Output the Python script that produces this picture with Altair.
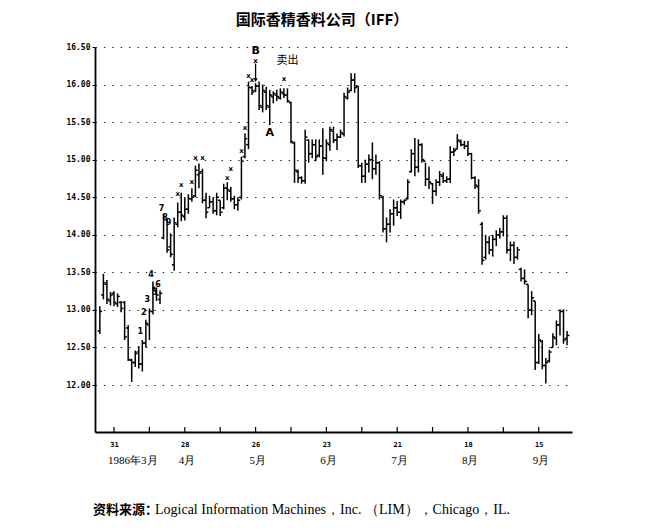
import altair as alt
import pandas as pd

# ---- daily bars (trading-day index 0..132) ----
high = [13.05, 13.48, 13.40, 13.24, 13.25, 13.22, 13.12, 13.12, 12.80, 12.35,
        12.46, 12.52, 12.60, 12.87, 13.02, 13.38, 13.30, 13.26, 14.28, 14.20,
        14.02, 14.23, 14.43, 14.56, 14.50, 14.54, 14.62, 14.92, 14.95, 14.88,
        14.56, 14.52, 14.50, 14.56, 14.46, 14.68, 14.70, 14.64, 14.52, 14.50,
        15.04, 15.35, 16.04, 15.98, 16.02, 16.04, 16.00, 15.97, 15.93, 15.91,
        15.93, 15.95, 15.95, 15.95, 15.77, 15.24, 14.87, 14.78, 15.40, 15.27,
        15.27, 15.27, 15.27, 15.42, 15.27, 15.44, 15.44, 15.35, 15.40, 15.89,
        15.96, 16.15, 16.15, 15.98, 14.96, 15.00, 15.07, 15.23, 15.07, 14.98,
        14.52, 14.23, 14.34, 14.47, 14.45, 14.47, 14.47, 14.74, 15.14, 15.29,
        15.27, 15.22, 14.96, 14.91, 14.69, 14.74, 14.85, 14.83, 14.78, 15.18,
        15.16, 15.34, 15.27, 15.25, 15.25, 15.09, 14.78, 14.74, 14.17, 14.00,
        13.98, 14.00, 14.06, 14.09, 14.26, 14.26, 13.91, 13.91, 13.84, 13.56,
        13.54, 13.34, 13.25, 13.12, 12.68, 12.60, 12.36, 12.47, 12.69, 12.86,
        13.01, 13.01, 12.72]
low = [12.68, 13.14, 13.08, 13.06, 13.05, 13.04, 12.97, 12.60, 12.32, 12.04,
       12.24, 12.22, 12.18, 12.50, 12.60, 12.94, 13.12, 13.08, 13.94, 13.76,
       13.70, 13.52, 14.10, 14.18, 14.19, 14.28, 14.44, 14.50, 14.62, 14.42,
       14.22, 14.36, 14.28, 14.26, 14.25, 14.34, 14.46, 14.44, 14.34, 14.32,
       14.47, 15.02, 15.14, 15.86, 15.90, 15.66, 15.63, 15.66, 15.46, 15.75,
       15.78, 15.80, 15.82, 15.76, 15.22, 14.69, 14.69, 14.68, 14.68, 14.96,
       15.02, 14.98, 15.03, 14.80, 14.98, 15.12, 15.22, 15.13, 15.29, 15.31,
       15.80, 15.91, 15.89, 14.89, 14.69, 14.69, 14.83, 14.74, 14.80, 14.47,
       14.03, 13.90, 14.03, 14.12, 14.25, 14.21, 14.40, 14.47, 14.83, 14.78,
       14.83, 14.96, 14.65, 14.61, 14.41, 14.52, 14.65, 14.69, 14.69, 14.69,
       15.05, 15.14, 15.18, 15.14, 15.05, 14.74, 14.61, 14.28, 13.60, 13.67,
       13.74, 13.71, 13.85, 13.95, 13.98, 13.75, 13.65, 13.61, 13.67, 13.38,
       13.34, 12.89, 12.93, 12.20, 12.28, 12.21, 12.02, 12.30, 12.50, 12.53,
       12.66, 12.55, 12.53]
open_ = [12.72, 13.20, 13.34, 13.12, 13.22, 13.08, 13.10, 13.10, 12.76, 12.33,
         12.30, 12.44, 12.28, 12.56, 12.80, 12.98, 13.26, 13.14, 13.96, 14.20,
         13.84, 13.60, 14.14, 14.30, 14.24, 14.34, 14.48, 14.52, 14.80, 14.84,
         14.46, 14.36, 14.44, 14.32, 14.46, 14.36, 14.62, 14.58, 14.48, 14.40,
         14.50, 15.04, 15.20, 15.96, 15.92, 15.98, 15.70, 15.90, 15.70, 15.84,
         15.86, 15.82, 15.88, 15.86, 15.76, 15.22, 14.84, 14.76, 14.72, 15.26,
         15.08, 15.20, 15.06, 15.18, 15.02, 15.20, 15.38, 15.26, 15.30, 15.34,
         15.82, 15.92, 16.06, 15.98, 14.92, 14.78, 14.94, 15.00, 14.88, 14.96,
         14.50, 14.08, 14.14, 14.28, 14.36, 14.30, 14.44, 14.48, 14.84, 15.08,
         14.90, 15.20, 14.98, 14.74, 14.68, 14.58, 14.70, 14.78, 14.72, 14.74,
         15.10, 15.14, 15.24, 15.20, 15.18, 15.08, 14.76, 14.64, 14.14, 13.70,
         13.90, 13.80, 13.94, 14.00, 14.04, 14.22, 13.80, 13.86, 13.70, 13.54,
         13.42, 13.34, 13.00, 13.12, 12.30, 12.58, 12.26, 12.32, 12.50, 12.62,
         12.80, 12.98, 12.62]
close = [12.98, 13.36, 13.14, 13.20, 13.10, 13.18, 13.02, 12.64, 12.34, 12.30,
         12.42, 12.28, 12.56, 12.82, 12.98, 13.30, 13.20, 13.22, 14.24, 13.80,
         13.74, 14.16, 14.30, 14.26, 14.34, 14.48, 14.50, 14.86, 14.82, 14.46,
         14.30, 14.44, 14.32, 14.50, 14.30, 14.62, 14.60, 14.48, 14.40, 14.46,
         14.98, 15.28, 15.96, 15.90, 15.98, 15.72, 15.92, 15.72, 15.86, 15.88,
         15.84, 15.90, 15.86, 15.78, 15.24, 14.86, 14.76, 14.72, 15.30, 15.08,
         15.20, 15.04, 15.18, 15.02, 15.22, 15.40, 15.26, 15.30, 15.36, 15.84,
         15.90, 16.06, 15.96, 14.92, 14.78, 14.94, 15.00, 14.88, 14.96, 14.52,
         14.08, 14.14, 14.28, 14.36, 14.30, 14.44, 14.46, 14.70, 15.08, 14.90,
         15.20, 15.00, 14.74, 14.70, 14.58, 14.70, 14.80, 14.72, 14.74, 15.10,
         15.12, 15.26, 15.20, 15.18, 15.08, 14.76, 14.66, 14.32, 13.66, 13.90,
         13.80, 13.94, 14.00, 14.04, 14.22, 13.80, 13.86, 13.70, 13.80, 13.42,
         13.38, 13.00, 13.16, 12.30, 12.60, 12.26, 12.30, 12.44, 12.64, 12.80,
         12.98, 12.60, 12.66]
idx = list(range(len(high)))

# ---- axis labels ----
y_ticks = [12.0, 12.5, 13.0, 13.5, 14.0, 14.5, 15.0, 15.5, 16.0, 16.5]
tick_idx = [4, 24, 44, 64, 84, 104, 124]
tick_day = ["31", "28", "26", "23", "21", "18", "15"]
minor_idx = [4, 14, 24, 34, 44, 54, 64, 74, 84, 94, 104, 114, 124]
month_lab = ["1986年3月", "4月", "5月", "6月", "7月", "8月", "9月"]

# ---- annotations ----
xmark_idx = [22, 23, 26, 27, 29, 36, 37, 40, 41, 42, 43, 44, 52]
xmark_p = [14.54, 14.66, 14.70, 15.02, 15.02, 14.75, 14.87, 15.12, 15.42,
           16.11, 16.06, 16.32, 16.07]
count_idx = [12, 13, 14, 15, 16, 17, 18, 19, 20]
count_lab = ["1", "2", "3", "4", "5", "6", "7", "8", "9"]
count_p = [12.71, 12.96, 13.13, 13.47, 13.22, 13.33, 14.35, 14.22, 14.16]
title_txt = "国际香精香料公司（IFF）"
src_bold = "资料来源："
src_txt = "Logical Information Machines，Inc. （LIM），Chicago，IL."

bars = pd.DataFrame({"i": idx, "high": high, "low": low, "open": open_, "close": close})
ticks = pd.DataFrame({"i": minor_idx})
months = pd.DataFrame({"i": tick_idx, "m": month_lab})
xmarks = pd.DataFrame({"i": xmark_idx, "p": xmark_p})
counts = pd.DataFrame({"i": count_idx, "p": count_p, "t": count_lab})
bmark = pd.DataFrame({"i": [44], "p": [16.45], "t": ["B"], "top": [16.28], "bot": [16.06]})
amark = pd.DataFrame({"i": [48], "p": [15.35], "t": ["A"]})
sell = pd.DataFrame({"i": [53], "p": [16.31], "t": ["卖出"]})

label_expr = " : ".join(f"datum.value == {k} ? '{v}'" for k, v in zip(tick_idx, tick_day)) + " : ''"

xs = alt.Scale(domain=[-1.37, 133.4], nice=False, zero=False)
ys = alt.Scale(domain=[11.375, 16.5], nice=False, zero=False)
xax = alt.Axis(values=tick_idx, labelExpr=label_expr, ticks=False, grid=False, title=None,
               domainColor="black", domainWidth=1.8, labelFont="DejaVu Sans Mono",
               labelFontSize=7, labelFontWeight="bold", labelColor="black",
               labelPadding=8, labelFlush=False)
yax = alt.Axis(values=y_ticks, format=".2f", title=None, grid=True, gridDash=[1.4, 7.0],
               gridColor="#222222", gridWidth=1.2, tickSize=3, tickColor="black",
               domainColor="black", domainWidth=1.8, labelFont="DejaVu Sans Mono",
               labelFontSize=8, labelFontWeight="bold", labelColor="black", labelPadding=2)


def X(f):
    return alt.X(f, type="quantitative", scale=xs, axis=xax)


def Y(f):
    return alt.Y(f, type="quantitative", scale=ys, axis=yax)


SW = 1.5
base = alt.Chart(bars)
hl = base.mark_rule(color="black", strokeWidth=SW).encode(x=X("i"), y=Y("low"), y2="high")
op = base.transform_calculate(il="datum.i - 0.65").mark_rule(color="black", strokeWidth=SW).encode(
    x=X("il"), x2="i", y=Y("open"))
cl = base.transform_calculate(ir="datum.i + 0.65").mark_rule(color="black", strokeWidth=SW).encode(
    x=X("i"), x2="ir", y=Y("close"))

tk = alt.Chart(ticks).mark_rule(color="black", strokeWidth=1.2).encode(
    x=X("i"), y=alt.value(380), y2=alt.value(385))
mo = alt.Chart(months).mark_text(align="left", baseline="middle", dx=-6, font="Liberation Serif",
                                 fontSize=11, color="black").encode(
    x=X("i"), y=alt.value(414), text="m:N")

xm = alt.Chart(xmarks).mark_text(text="x", font="DejaVu Sans", fontSize=7, fontWeight="bold",
                                 color="black", baseline="middle").encode(x=X("i"), y=Y("p"))
cn = alt.Chart(counts).mark_text(font="DejaVu Sans", fontSize=8, fontWeight="bold", dx=-2,
                                 color="black", baseline="middle").encode(x=X("i"), y=Y("p"), text="t:N")
bt = alt.Chart(bmark).mark_text(font="DejaVu Sans", fontSize=11, fontWeight="bold",
                                color="black", baseline="middle").encode(x=X("i"), y=Y("p"), text="t:N")
ar = alt.Chart(bmark).mark_rule(color="black", strokeWidth=1.3).encode(x=X("i"), y=Y("top"), y2="bot")
ah = alt.Chart(bmark).mark_point(shape="triangle-down", filled=True, size=18, color="black",
                                 opacity=1).encode(x=X("i"), y=Y("bot"))
at = alt.Chart(amark).mark_text(font="DejaVu Sans", fontSize=11, fontWeight="bold",
                                color="black", baseline="middle").encode(x=X("i"), y=Y("p"), text="t:N")
st = alt.Chart(sell).mark_text(font="Noto Sans CJK SC", fontSize=11, color="black",
                               baseline="middle").encode(x=X("i"), y=Y("p"), text="t:N")

tt = alt.Chart(pd.DataFrame({"t": [title_txt]})).mark_text(
    font="Noto Sans CJK SC", fontSize=15, fontWeight="bold", align="center", baseline="middle",
    color="black").encode(x=alt.value(227), y=alt.value(-27), text="t:N")
f1 = alt.Chart(pd.DataFrame({"t": [src_bold]})).mark_text(
    font="Noto Sans CJK SC", fontSize=13, fontWeight="bold", align="left", baseline="middle",
    color="black").encode(x=alt.value(-2), y=alt.value(463), text="t:N")
f2 = alt.Chart(pd.DataFrame({"t": [src_txt]})).mark_text(
    font="Liberation Serif", fontSize=14, align="left", baseline="middle",
    color="black").encode(x=alt.value(60), y=alt.value(463), text="t:N")

chart = alt.layer(hl, op, cl, tk, mo, xm, cn, bt, ar, ah, at, st, tt, f1, f2).properties(
    width=477, height=385,
    autosize=alt.AutoSizeParams(type="none"),
    padding={"left": 87, "top": 39, "right": 50, "bottom": 88},
).configure_view(stroke=None)

chart.save("out.html", embed_options={"renderer": "svg", "actions": False})
